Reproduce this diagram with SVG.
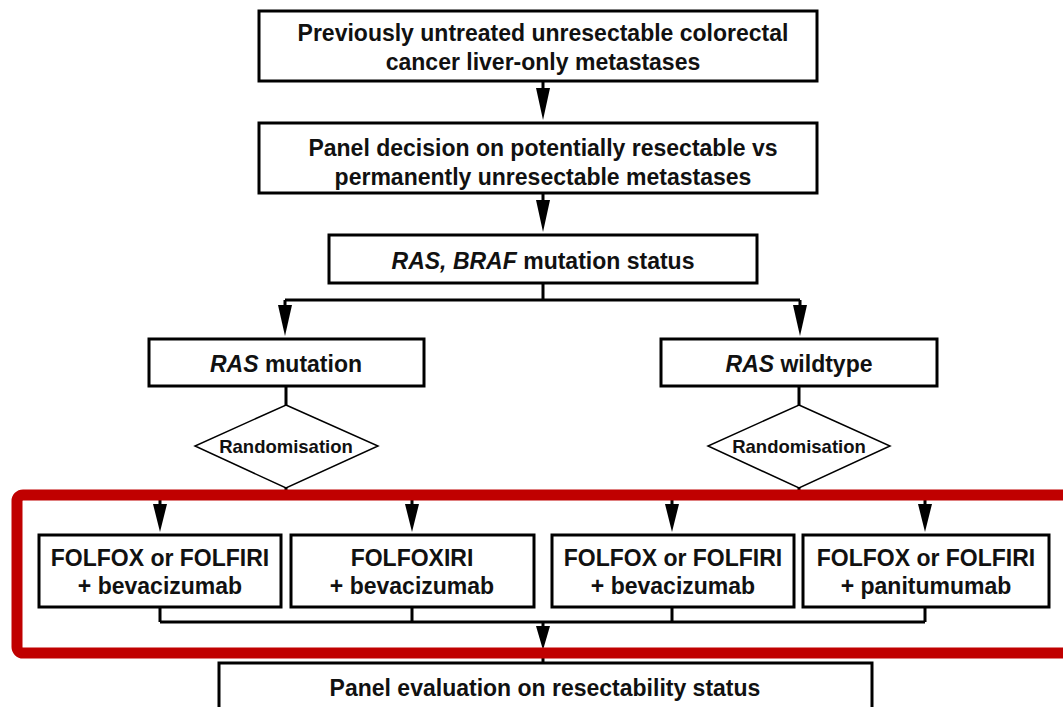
<svg xmlns="http://www.w3.org/2000/svg" width="1063" height="707" viewBox="0 0 1063 707">
<defs>
<style>
.box{fill:#fff;stroke:#000;stroke-width:3}
.dia{fill:#fff;stroke:#000;stroke-width:1.5}
.t{font-family:"Liberation Sans",Arial,sans-serif;font-weight:bold;font-size:23px;fill:#111;text-anchor:middle}
.s{font-family:"Liberation Sans",Arial,sans-serif;font-weight:bold;font-size:18.5px;fill:#111;text-anchor:middle}
.c{fill:none;stroke:#000;stroke-width:3}
</style>
</defs>
<rect width="1063" height="707" fill="#fff"/>
<g id="connectors">
<line class="c" x1="543" y1="82" x2="543" y2="88"/>
<path d="M536,88 L550,88 L543,120 Z"/>
<line class="c" x1="543" y1="194" x2="543" y2="200"/>
<path d="M536,200 L550,200 L543,232 Z"/>
<path class="c" d="M543,284 V300 M285,300 H800 M285,300 V306 M800,300 V306"/>
<path d="M278,305 L292,305 L285,336 Z"/>
<path d="M793,305 L807,305 L800,336 Z"/>
<path class="c" d="M286,386 V405 M799,386 V405"/>
<path class="c" d="M286,488 V497 M799,488 V497 M160,497 H925 M160,497 V505 M412,497 V505 M672,497 V505 M925,497 V505"/>
<path d="M153,504 L167,504 L160,532 Z"/>
<path d="M405,504 L419,504 L412,532 Z"/>
<path d="M665,504 L679,504 L672,532 Z"/>
<path d="M918,504 L932,504 L925,532 Z"/>
<path class="c" d="M160,607 V622 M412,607 V622 M672,607 V622 M925,607 V622 M160,622 H925 M543,622 V628"/>
<path d="M536,626 L550,626 L543,650 Z"/>
<line class="c" x1="543" y1="650" x2="543" y2="662" stroke-width="1.5"/>
</g>
<g id="n1"><rect class="box" x="259" y="11" width="558" height="70"/>
<text class="t" x="543" y="41">Previously untreated unresectable colorectal</text>
<text class="t" x="543" y="70">cancer liver-only metastases</text></g>
<g id="n2"><rect class="box" x="259" y="123" width="558" height="70"/>
<text class="t" x="543" y="156">Panel decision on potentially resectable vs</text>
<text class="t" x="543" y="185">permanently unresectable metastases</text></g>
<g id="n3"><rect class="box" x="329" y="235" width="428" height="48"/>
<text class="t" x="543" y="269"><tspan font-style="italic">RAS, BRAF</tspan> mutation status</text></g>
<g id="n4"><rect class="box" x="149" y="339" width="275" height="47"/>
<text class="t" x="286" y="372"><tspan font-style="italic">RAS</tspan> mutation</text></g>
<g id="n5"><rect class="box" x="661" y="339" width="276" height="47"/>
<text class="t" x="799" y="372"><tspan font-style="italic">RAS</tspan> wildtype</text></g>
<g id="n6"><polygon class="dia" points="286,405 378,446 286,488 195,446"/>
<text class="s" x="286" y="453">Randomisation</text></g>
<g id="n7"><polygon class="dia" points="799,405 890,446 799,488 708,446"/>
<text class="s" x="799" y="453">Randomisation</text></g>
<g id="n8"><rect class="box" x="39" y="535" width="242" height="72"/>
<text class="t" x="160" y="566">FOLFOX or FOLFIRI</text>
<text class="t" x="160" y="594">+ bevacizumab</text></g>
<g id="n9"><rect class="box" x="291" y="535" width="243" height="72"/>
<text class="t" x="412" y="566">FOLFOXIRI</text>
<text class="t" x="412" y="594">+ bevacizumab</text></g>
<g id="n10"><rect class="box" x="552" y="535" width="242" height="72"/>
<text class="t" x="673" y="566">FOLFOX or FOLFIRI</text>
<text class="t" x="673" y="594">+ bevacizumab</text></g>
<g id="n11"><rect class="box" x="803" y="535" width="246" height="72"/>
<text class="t" x="926" y="566">FOLFOX or FOLFIRI</text>
<text class="t" x="926" y="594">+ panitumumab</text></g>
<g id="n12"><rect class="box" x="219" y="663" width="653" height="60"/>
<text class="t" x="545" y="696">Panel evaluation on resectability status</text></g>
<rect id="highlight" x="17" y="495" width="1060" height="158" rx="6" fill="none" stroke="#C00000" stroke-width="11"/>
</svg>
